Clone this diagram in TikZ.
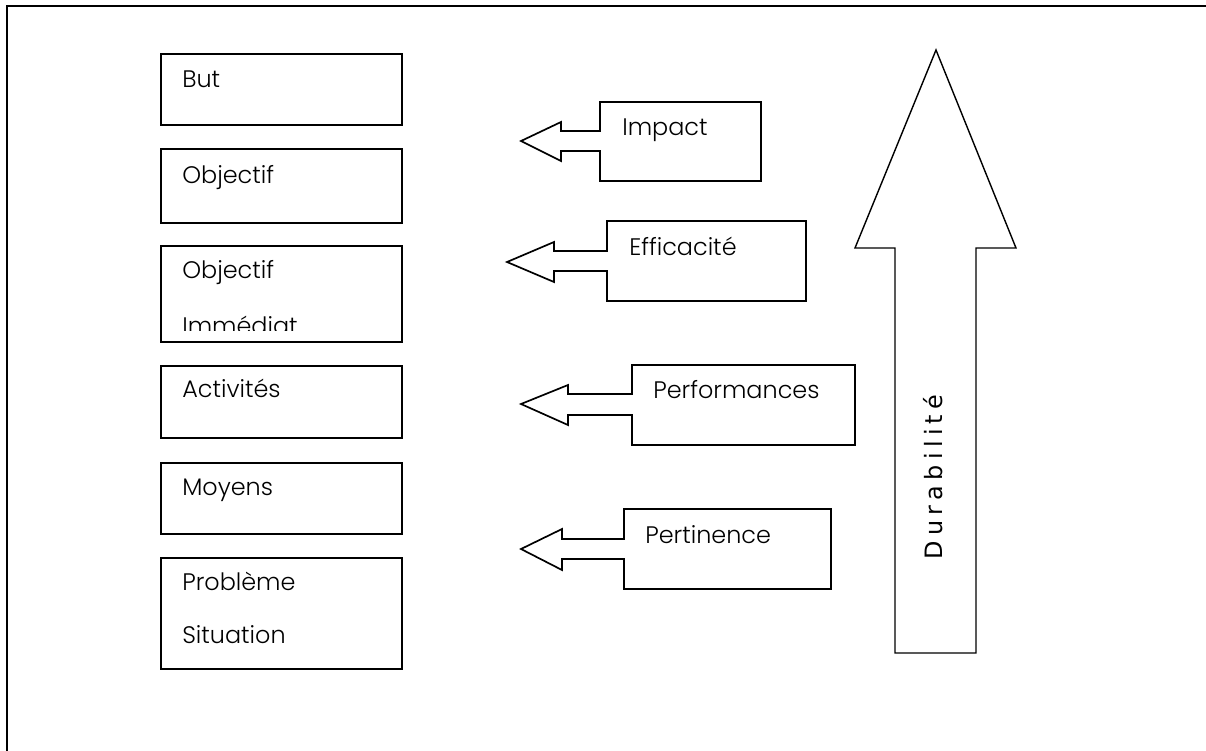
\documentclass[tikz,border=0pt]{standalone}
\usepackage{fontspec}
\setmainfont{Poppins}[UprightFont=* Light]
\newfontfamily\durfont[LetterSpace=22]{DejaVu Sans}
\usetikzlibrary{positioning}

\begin{document}
\begin{tikzpicture}[x=0.025cm, y=-0.025cm,
    level/.style={rectangle, draw=black, line width=1.4pt, minimum width=6.025cm,
      anchor=north west, inner sep=0pt},
    txt/.style={anchor=base west, inner sep=0pt, font=\fontsize{17}{20}\selectfont},
    callout/.style={draw=black, line width=1.2pt, line join=miter}]
    \useasboundingbox (0,0) rectangle (1206,751);

    % frame
    \draw[line width=1.5pt] (7,760) -- (7,6) coordinate(frame) -- (1215,6);

    % levels on the left
    \node[level, minimum height=1.775cm] (but) at (160,53) {};
    \node[level, minimum height=1.85cm] (obj) at (160,148) {};
    \node[level, minimum height=2.4cm] (objimm) at (160,245) {};
    \node[level, minimum height=1.8cm] (act) at (160,365) {};
    \node[level, minimum height=1.775cm] (moy) at (160,462) {};
    \node[level, minimum height=2.775cm] (prob) at (160,557) {};

    \node[txt] (t-but) at ([shift={(22,34)}]but.north west) {But};
    \node[txt] (t-obj) at ([shift={(22,35)}]obj.north west) {Objectif};
    \begin{scope}
        \clip ([shift={(2,2)}]objimm.north west) rectangle ([shift={(-2,-12)}]objimm.south east);
        \node[txt] (t-objimm) at ([shift={(22,33)}]objimm.north west) {Objectif};
        \node[txt] (t-imm) at ([shift={(0,56)}]t-objimm.base west) {Immédiat};
    \end{scope}
    \node[txt] (t-act) at ([shift={(22,32)}]act.north west) {Activités};
    \node[txt] (t-moy) at ([shift={(22,33)}]moy.north west) {Moyens};
    \node[txt] (t-prob) at ([shift={(22,33)}]prob.north west) {Problème};
    \node[txt] (t-sit) at ([shift={(0,53)}]t-prob.base west) {Situation};

    % callouts pointing back to the levels
    \draw[callout] (600,102) -| (761,181) -| (600,151) -- (561,151) -- (561,161)
    -- (521,141) -- (561,122) -- (561,131) -- (600,131) -- cycle;
    \node[txt] (impact) at (622,135) {Impact};

    \draw[callout] (607,221) -| (806,301) -| (607,271) -- (554,271) -- (554,282)
    -- (507,262) -- (554,242) -- (554,251) -- (607,251) -- cycle;
    \node[txt] (effic) at (629,255) {Efficacité};

    \draw[callout] (632,365) -| (855,445) -| (632,415) -- (568,415) -- (568,425)
    -- (521,404) -- (568,385) -- (568,394) -- (632,394) -- cycle;
    \node[txt] (perf) at (653,398) {Performances};

    \draw[callout] (624,509) -| (831,589) -| (624,559) -- (562,559) -- (562,570)
    -- (521,549) -- (562,529) -- (562,539) -- (624,539) -- cycle;
    \node[txt] (pert) at (645,543) {Pertinence};

    % big arrow up
    \draw[callout, line width=1pt] (936,50) -- (1016,248) -- (976,248) -- (976,653)
    -- (895,653) -- (895,248) -- (855,248) -- cycle;
    \node[rotate=90, anchor=base, inner sep=0pt, font=\durfont\fontsize{17}{20}\selectfont]
    (durab) at (942,477) {Durabilité};
\end{tikzpicture}
\end{document}
